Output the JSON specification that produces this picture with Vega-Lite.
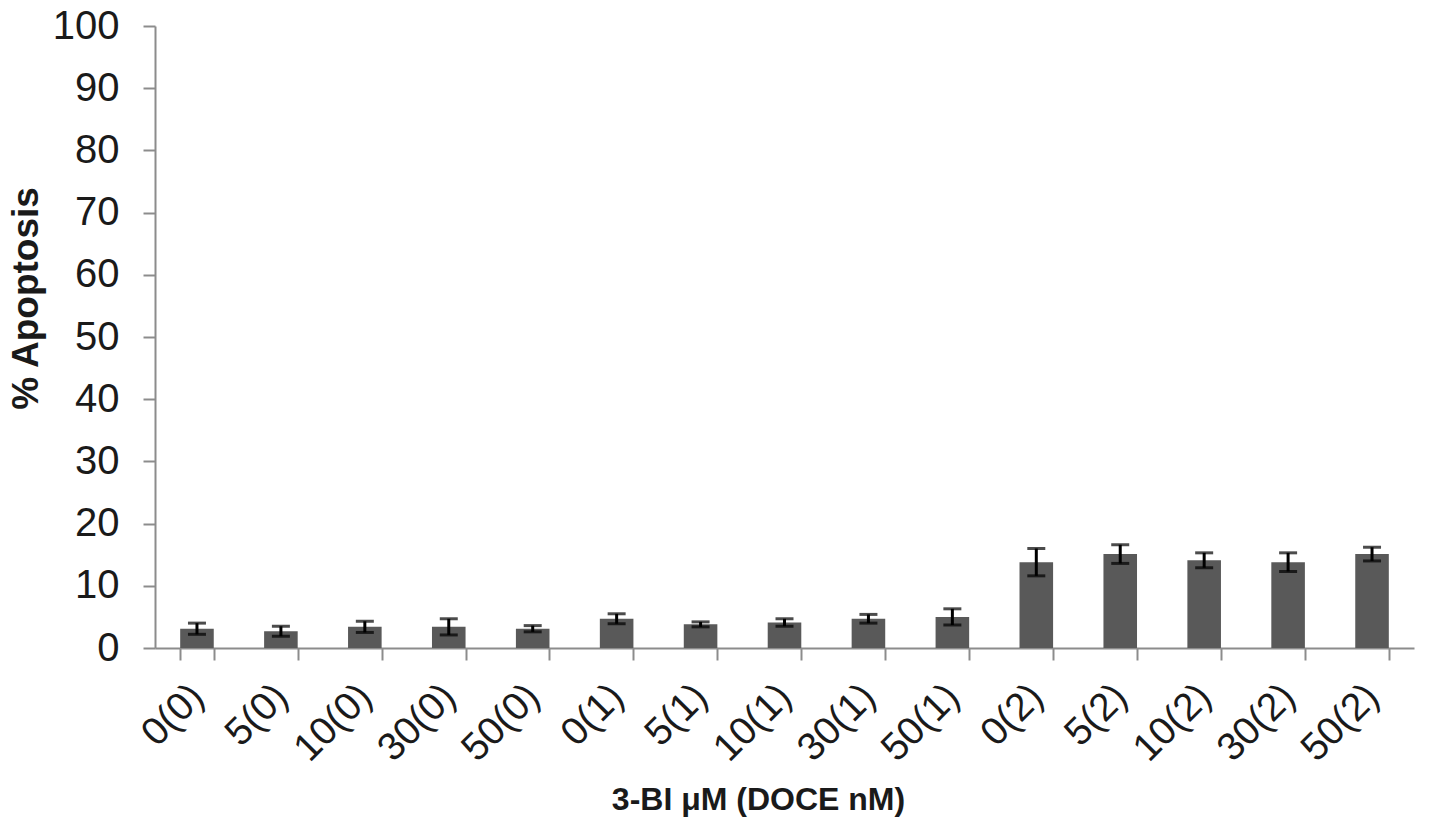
{
  "$schema": "https://vega.github.io/schema/vega-lite/v6.json",
  "autosize": "none",
  "width": 1259,
  "height": 622,
  "padding": {"left": 155, "top": 26, "right": 27, "bottom": 183},
  "background": "white",
  "config": {
    "view": {"stroke": null},
    "font": "Liberation Sans",
    "axis": {"grid": false, "domainColor": "#8c8c8c", "tickColor": "#8c8c8c", "domainWidth": 2, "tickWidth": 2, "labelColor": "#1a1a1a", "titleColor": "#1a1a1a"}
  },
  "data": {
    "values": [
      {"cat": "0(0)", "mean": 3.1, "err": 0.9},
      {"cat": "5(0)", "mean": 2.7, "err": 0.8},
      {"cat": "10(0)", "mean": 3.4, "err": 0.9},
      {"cat": "30(0)", "mean": 3.4, "err": 1.3},
      {"cat": "50(0)", "mean": 3.1, "err": 0.5},
      {"cat": "0(1)", "mean": 4.7, "err": 0.8},
      {"cat": "5(1)", "mean": 3.8, "err": 0.4},
      {"cat": "10(1)", "mean": 4.1, "err": 0.6},
      {"cat": "30(1)", "mean": 4.7, "err": 0.7},
      {"cat": "50(1)", "mean": 5.0, "err": 1.3},
      {"cat": "0(2)", "mean": 13.8, "err": 2.2},
      {"cat": "5(2)", "mean": 15.1, "err": 1.5},
      {"cat": "10(2)", "mean": 14.1, "err": 1.2},
      {"cat": "30(2)", "mean": 13.8, "err": 1.5},
      {"cat": "50(2)", "mean": 15.1, "err": 1.1}
    ]
  },
  "encoding": {
    "x": {
      "field": "cat", "type": "nominal", "sort": null,
      "scale": {"paddingInner": 0.6, "paddingOuter": 0.3},
      "axis": {
        "title": "3-BI μM (DOCE nM)",
        "titleFontSize": 32, "titleFontWeight": "bold", "titlePadding": 16, "titleX": 603,
        "labelAngle": -45, "labelAlign": "right", "labelBaseline": "middle",
        "labelFontSize": 39, "labelPadding": 30,
        "tickBand": "extent", "tickSize": 12
      }
    }
  },
  "layer": [
    {
      "mark": {"type": "bar", "color": "#595959"},
      "encoding": {
        "y": {
          "field": "mean", "type": "quantitative",
          "scale": {"domain": [0, 100]},
          "axis": {
            "title": "% Apoptosis", "titleFontSize": 37, "titleFontWeight": "bold",
            "titleX": -110, "titleY": 272,
            "values": [0, 10, 20, 30, 40, 50, 60, 70, 80, 90, 100],
            "labelFontSize": 40, "labelPadding": 24, "tickSize": 12
          }
        }
      }
    },
    {
      "mark": {"type": "errorbar", "color": "black", "ticks": {"size": 18, "thickness": 3, "color": "black"}, "rule": {"strokeWidth": 3, "color": "black"}},
      "encoding": {
        "y": {"field": "mean", "type": "quantitative", "title": "% Apoptosis"},
        "yError": {"field": "err"}
      }
    }
  ]
}
